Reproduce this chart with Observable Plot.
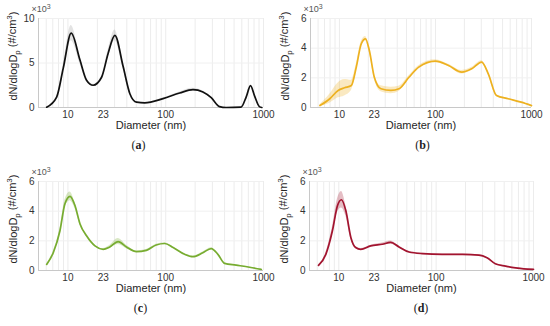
<!DOCTYPE html>
<html>
<head>
<meta charset="utf-8">
<script src="https://cdn.jsdelivr.net/npm/d3@7"></script>
<script src="https://cdn.jsdelivr.net/npm/@observablehq/plot@0.6"></script>
<style>
  html, body { margin: 0; padding: 0; background: #fff; }
  #grid { display: grid; grid-template-columns: 275px 275px; grid-template-rows: 163px 163px; width: 550px; height: 326px; }
  #grid svg { display: block; }
</style>
</head>
<body>
<div id="grid"></div>
<script>
// ---- data (diameter in nm, dN/dlogDp in 10^3 #/cm^3, spread = band half-width) ----
const xTickValues = [10, 23, 100, 1000];

const diamA = [6.06, 7.67, 8.95, 10.8, 13.3, 15.5, 18.1, 22.1, 25.8, 30.2, 36.7, 43, 50.2, 61, 94, 139, 190, 240, 292, 356, 414, 590, 666, 737, 810, 907, 960];
const valA  = [0.03, 1.17, 4.4, 8.35, 5.3, 3.07, 2.5, 3.4, 6.1, 8.1, 4.6, 1.55, 0.6, 0.53, 1.0, 1.63, 2.0, 1.74, 1.1, 0.1, 0.0, 0.05, 1.2, 2.45, 1.3, 0.1, 0.0];
const sdA   = [0.02, 0.1, 0.4, 0.85, 0.4, 0.15, 0.1, 0.15, 0.4, 0.6, 0.3, 0.1, 0.05, 0.04, 0.06, 0.12, 0.15, 0.1, 0.06, 0.02, 0, 0, 0.05, 0.05, 0.05, 0, 0];

const diamB = [6.27, 7.94, 9.7, 11.3, 13.3, 14.96, 16.9, 18.7, 20.5, 23.1, 27.1, 34.4, 41.7, 53, 67, 100, 137, 188, 239, 303, 355, 432, 570, 780, 1000];
const valB  = [0.13, 0.59, 1.15, 1.33, 1.48, 2.7, 4.3, 4.63, 3.84, 2.04, 1.26, 1.15, 1.26, 2.04, 2.72, 3.12, 2.83, 2.38, 2.61, 3.06, 2.27, 0.81, 0.59, 0.36, 0.13];
const sdB   = [0.05, 0.3, 0.5, 0.55, 0.35, 0.2, 0.15, 0.15, 0.12, 0.1, 0.2, 0.22, 0.18, 0.1, 0.1, 0.1, 0.08, 0.12, 0.1, 0.1, 0.08, 0.05, 0.03, 0.02, 0.02];

const diamC = [6.06, 7.08, 8.29, 9.32, 10.5, 11.8, 13.3, 15.5, 18.9, 22.9, 26.8, 32.6, 39.7, 50.2, 63.4, 80, 97.7, 119, 156, 190, 240, 292, 342, 400, 525, 718, 950];
const valC  = [0.41, 1.2, 2.68, 4.5, 5.0, 4.38, 3.14, 2.34, 1.66, 1.43, 1.59, 1.95, 1.59, 1.27, 1.36, 1.72, 1.82, 1.55, 1.09, 0.93, 1.2, 1.48, 1.09, 0.48, 0.36, 0.22, 0.07];
const sdC   = [0.03, 0.08, 0.15, 0.25, 0.3, 0.2, 0.1, 0.05, 0.05, 0.05, 0.1, 0.2, 0.12, 0.05, 0.05, 0.05, 0.05, 0.04, 0.03, 0.03, 0.04, 0.05, 0.03, 0.02, 0.01, 0.01, 0.01];

const diamD = [6.19, 7.36, 8.6, 9.7, 10.65, 11.8, 13.3, 14.9, 16.8, 21.3, 28, 34.1, 41.5, 52.6, 72, 115, 186, 275, 333, 405, 515, 655, 795, 1000];
const valD  = [0.34, 1.09, 2.68, 4.38, 4.77, 4.04, 2.23, 1.55, 1.43, 1.66, 1.77, 1.89, 1.59, 1.25, 1.14, 1.09, 1.09, 1.04, 0.86, 0.46, 0.3, 0.18, 0.11, 0.07];
const sdD   = [0.03, 0.1, 0.25, 0.45, 0.55, 0.35, 0.12, 0.06, 0.05, 0.05, 0.08, 0.1, 0.06, 0.04, 0.03, 0.03, 0.03, 0.03, 0.03, 0.02, 0.02, 0.01, 0.01, 0.01];

const panels = [
  {tag: "a", diam: diamA, val: valA, sd: sdA, color: "#111111", band: "#9a9a9a", yMax: 10, yTicks: [0, 5, 10], ml: 38, mr: 12, capDx: -12},
  {tag: "b", diam: diamB, val: valB, sd: sdB, color: "#EDB120", band: "#EDB120", yMax: 6, yTicks: [0, 2, 4, 6], ml: 35, mr: 19, capDx: 2},
  {tag: "c", diam: diamC, val: valC, sd: sdC, color: "#77AC30", band: "#77AC30", yMax: 6, yTicks: [0, 2, 4, 6], ml: 38, mr: 12, capDx: -10},
  {tag: "d", diam: diamD, val: valD, sd: sdD, color: "#A2142F", band: "#A2142F", yMax: 6, yTicks: [0, 2, 4, 6], ml: 34, mr: 17, capDx: 0}
];

const xDomain = [5, 1000];
const minorGrid = [];
for (const dec of [1, 10, 100]) for (let k = 1; k <= 9; k++) { const v = k * dec; if (v >= 5) minorGrid.push(v); }
minorGrid.push(1000);

const FONT = "'Liberation Sans', Arial, Helvetica, sans-serif";
const grid = document.getElementById("grid");

for (const p of panels) {
  const rows = p.diam.map((d, i) => ({d, v: p.val[i], lo: Math.max(0, p.val[i] - p.sd[i]), hi: p.val[i] + p.sd[i]}));
  const W = 275, H = 163, MT = 18, MB = 56;
  const svgEl = Plot.plot({
    width: W, height: H,
    marginLeft: p.ml, marginRight: p.mr, marginTop: MT, marginBottom: MB,
    style: {fontFamily: FONT, fontSize: "10px", color: "#333", background: "transparent", overflow: "visible"},
    x: {type: "log", domain: xDomain, ticks: xTickValues, tickFormat: d => String(d), tickSize: 0, tickPadding: 3, label: null},
    y: {domain: [0, p.yMax], ticks: p.yTicks, tickFormat: d => String(d), tickSize: 0, tickPadding: 4, label: null},
    marks: [
      Plot.gridX(minorGrid, {stroke: "#ececec", strokeOpacity: 1}),
      Plot.gridY(p.yTicks, {stroke: "#f0f0f0", strokeOpacity: 1}),
      Plot.ruleY([0], {stroke: "#c8c8c8"}),
      Plot.ruleX([xDomain[0]], {stroke: "#c8c8c8"}),
      Plot.areaY(rows, {x: "d", y1: "lo", y2: "hi", fill: p.band, fillOpacity: 0.28, curve: "monotone-x"}),
      Plot.line(rows, {x: "d", y: "v", stroke: p.color, strokeWidth: 1.7, curve: "monotone-x"}),
      Plot.text(["Diameter (nm)"], {frameAnchor: "bottom", dy: 21, text: d => d, fontSize: 11, fill: "#262626"})
    ]
  });
  const svg = d3.select(svgEl);
  const midY = 56;
  // y-axis label with subscript / superscript
  const yl = svg.append("text")
    .attr("transform", `translate(${p.ml - 21},${midY}) rotate(-90)`)
    .attr("text-anchor", "middle")
    .attr("font-family", FONT).attr("font-size", 11).attr("fill", "#262626");
  yl.append("tspan").text("dN/dlogD");
  yl.append("tspan").attr("dy", "0.4em").attr("font-size", 8).text("p");
  yl.append("tspan").attr("dy", "-0.4em").text(" (#/cm");
  yl.append("tspan").attr("dy", "-0.5em").attr("font-size", 8).text("3");
  yl.append("tspan").attr("dy", "0.5em").text(")");
  // exponent marker
  const ex = svg.append("text")
    .attr("x", p.ml + 3).attr("y", MT - 6)
    .attr("font-family", FONT).attr("font-size", 9).attr("fill", "#555");
  ex.append("tspan").text("\u00d710");
  ex.append("tspan").attr("dy", "-0.45em").attr("font-size", 7).text("3");
  // sub-figure caption
  const cap = svg.append("text")
    .attr("x", (p.ml + (W - p.mr)) / 2 + p.capDx).attr("y", H - 14)
    .attr("text-anchor", "middle")
    .attr("font-family", "'Liberation Serif', 'Times New Roman', serif").attr("font-size", 12).attr("fill", "#222");
  cap.append("tspan").text("(");
  cap.append("tspan").attr("font-weight", "bold").text(p.tag);
  cap.append("tspan").text(")");
  grid.appendChild(svgEl);
}
</script>
</body>
</html>
